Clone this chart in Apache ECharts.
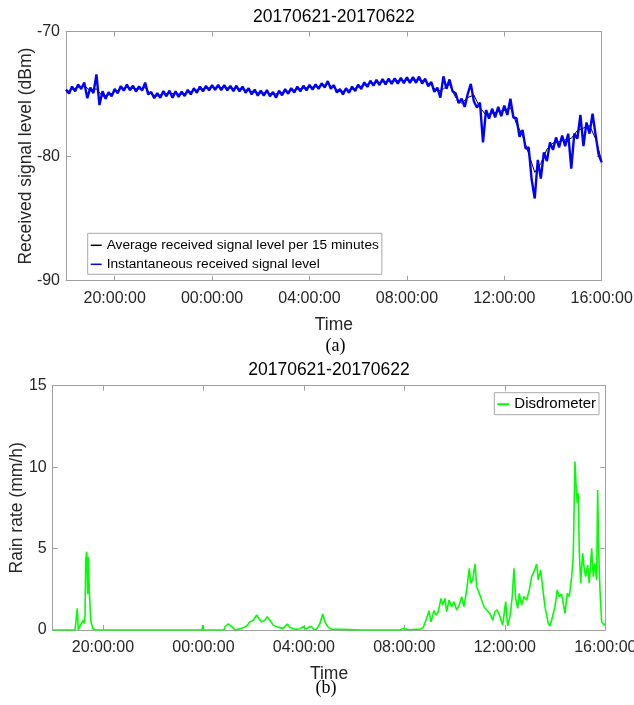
<!DOCTYPE html>
<html><head><meta charset="utf-8">
<script src="https://cdn.jsdelivr.net/npm/echarts@6/dist/echarts.min.js"></script>
<style>html,body{margin:0;padding:0;background:#fff}#c{width:634px;height:705px}</style>
</head><body><div id="c"></div>
<script>
// ---------- data ----------
const chartTitle = '20170621-20170622';
const tickHours = [2, 6, 10, 14, 18, 22];            // hours after 2017-06-21 18:00
const tickLabels = ['20:00:00', '00:00:00', '04:00:00', '08:00:00', '12:00:00', '16:00:00'];

const avgName = 'Average received signal level per 15 minutes';
const instName = 'Instantaneous received signal level';
const rainName = 'Disdrometer';

const avgStepHours = 0.25;   // 15 minutes
const avgSignal = [
  -74.86,-74.64,-74.48,-74.35,-74.75,-74.60,-75.20,-75.10,-74.85,-74.60,
  -74.48,-74.56,-74.62,-74.50,-75.05,-75.18,-75.00,-74.96,-75.00,-75.05,
  -74.90,-74.75,-74.64,-74.56,-74.50,-74.48,-74.50,-74.56,-74.56,-74.64,
  -74.75,-74.88,-74.96,-74.90,-75.05,-74.96,-74.83,-74.75,-74.64,-74.56,
  -74.48,-74.45,-74.36,-74.22,-74.50,-74.83,-74.75,-74.64,-74.48,-74.30,
  -74.16,-74.10,-74.05,-74.00,-73.97,-73.95,-73.90,-73.90,-73.88,-74.00,
  -74.30,-74.80,-74.60,-74.25,-75.30,-75.75,-75.30,-75.10,-76.10,-76.70,
  -76.55,-76.44,-76.33,-76.10,-77.40,-78.35,-79.80,-81.30,-80.60,-79.45,
  -78.95,-78.84,-78.70,-78.58,-77.95,-77.75,-77.55,-78.60,-80.40
];

const instStepHours = 0.125; // 7.5 minutes
const instSignal = [
  -74.66,-74.98,-74.42,-74.80,-74.25,-74.62,-74.10,-75.35,-74.50,-74.95,
  -73.45,-75.90,-74.80,-75.40,-74.88,-75.20,-74.62,-74.95,-74.38,-74.75,
  -74.25,-74.72,-74.35,-74.82,-74.40,-74.75,-74.10,-75.05,-74.85,-75.35,
  -74.95,-75.32,-74.78,-75.20,-74.75,-75.32,-74.80,-75.25,-74.82,-75.18,
  -74.68,-75.05,-74.55,-74.92,-74.42,-74.80,-74.36,-74.72,-74.30,-74.68,
  -74.28,-74.70,-74.30,-74.72,-74.36,-74.78,-74.35,-74.80,-74.42,-74.92,
  -74.55,-75.05,-74.66,-75.15,-74.74,-75.15,-74.70,-75.20,-74.85,-75.32,
  -74.75,-75.12,-74.62,-75.00,-74.55,-74.90,-74.42,-74.80,-74.35,-74.72,
  -74.28,-74.66,-74.25,-74.60,-74.15,-74.50,-73.98,-74.60,-74.30,-74.90,
  -74.62,-75.05,-74.55,-74.92,-74.42,-74.78,-74.26,-74.62,-74.08,-74.45,
  -73.95,-74.35,-73.88,-74.30,-73.82,-74.25,-73.78,-74.20,-73.75,-74.18,
  -73.72,-74.15,-73.68,-74.12,-73.66,-74.12,-73.62,-74.18,-73.78,-74.40,
  -74.05,-74.85,-74.50,-75.30,-73.60,-74.60,-73.85,-74.80,-74.95,-75.75,
  -75.40,-76.05,-75.00,-74.20,-75.60,-76.10,-75.70,-78.90,-76.30,-77.00,
  -76.20,-76.90,-76.05,-76.80,-75.95,-76.70,-75.40,-76.90,-76.95,-78.45,
  -77.90,-79.40,-79.30,-81.90,-83.40,-80.30,-81.80,-79.70,-80.40,-78.90,
  -79.50,-78.50,-79.30,-78.35,-79.20,-78.20,-81.00,-78.20,-78.60,-76.70,
  -79.20,-77.30,-78.20,-76.60,-78.30,-79.90,-80.50
];

const rainHours = [
  0,0.888,0.947,0.979,1.019,1.087,1.154,1.218,1.258,1.286,1.314,1.354,1.393,1.417,1.457,1.513,1.592,1.684,
  5.943,5.971,5.999,6.82,6.859,6.99,7.058,7.166,7.257,7.524,7.723,7.854,7.986,8.121,8.225,8.32,8.451,8.543,
  8.65,8.782,8.981,9.18,9.339,9.447,9.646,9.845,9.976,10.111,10.2,10.31,10.4,10.51,10.64,10.748,10.84,10.971,
  11.12,11.44,11.835,12.23,13.826,13.957,14.144,14.49,14.622,14.753,14.889,14.98,15.06,15.179,15.259,15.35,
  15.458,15.525,15.617,15.685,15.776,15.884,15.975,16.083,16.186,16.282,16.373,16.481,16.584,16.64,16.72,
  16.812,16.879,16.982,17.078,17.17,17.277,17.408,17.516,17.608,17.699,17.807,17.914,18.033,18.113,18.205,
  18.296,18.364,18.432,18.511,18.575,18.67,18.762,18.869,18.973,19.068,19.16,19.268,19.331,19.427,19.53,
  19.598,19.729,19.797,19.865,19.996,20.087,20.167,20.263,20.394,20.486,20.565,20.661,20.724,20.792,20.832,
  20.884,20.924,20.963,21.019,21.099,21.151,21.218,21.298,21.361,21.457,21.521,21.588,21.656,21.696,21.736,
  21.787,21.855,21.947,22.0
];
const rainRate = [
  0,0,0,1.33,0,0.05,0.45,0.6,0.4,0.8,4.3,4.81,2.2,4.5,2.46,0.6,0.1,0,
  0,0.3,0,0,0.2,0.37,0.4,0.16,0,0.1,0.25,0.5,0.6,0.92,0.65,0.5,0.6,0.82,
  0.6,0.3,0.16,0.1,0.37,0.16,0.04,0.08,0.2,0.05,0.18,0.2,0.03,0.05,0.4,0.98,0.5,0.16,
  0.05,0.04,0.02,0,0,0.1,0.02,0.05,0.04,0.16,0.72,1.18,0.5,1.2,0.92,1.12,
  1.94,1.53,1.94,1.12,1.84,1.43,1.74,1.23,1.53,2.05,1.43,2.46,3.79,2.87,3.07,
  4.05,2.66,2.25,1.84,1.43,1.23,1.02,0.6,1.12,1.23,0.82,0.3,1.74,0.25,0.82,
  2.05,3.79,1.94,1.33,2.25,1.53,2.05,1.84,2.46,3.28,3.58,4.05,3.07,3.69,2.3,
  1.43,0.41,0.25,0.61,1.43,2.46,2.05,2.2,1.02,2.25,2.05,3.28,4.5,10.34,9.0,
  7.78,8.4,4.9,2.87,4.71,3.89,3.28,3.99,2.87,5.02,3.28,4.1,3.07,8.6,4.9,
  2.46,0.51,0.3,0.4
];

// ---------- style ----------
const sans = '"Liberation Sans", Arial, sans-serif';
const serif = '"Liberation Serif", "Times New Roman", serif';
const axisColor = '#a0a0a0';
const textColor = '#262626';

function xAxisCfg(grid, pos, main) {
  return {
    type: 'value', gridIndex: grid, position: pos, min: 0, max: 22,
    axisLine: { show: true, onZero: false, lineStyle: { color: axisColor, width: 1 } },
    axisTick: { show: true, inside: true, length: 5, customValues: tickHours, lineStyle: { color: axisColor } },
    axisLabel: { show: main, customValues: tickHours, margin: 10,
      formatter: v => { const i = tickHours.indexOf(v); return i >= 0 ? tickLabels[i] : ''; },
      color: textColor, fontSize: 16, fontFamily: sans },
    splitLine: { show: false },
    name: main ? 'Time' : '', nameLocation: 'middle', nameGap: 35, nameMoveOverlap: false,
    nameTextStyle: { color: textColor, fontSize: 17.5, fontFamily: sans }
  };
}
function yAxisCfg(grid, pos, main, min, max, interval, name, gap) {
  return {
    type: 'value', gridIndex: grid, position: pos, min, max, interval,
    axisLine: { show: true, onZero: false, lineStyle: { color: axisColor, width: 1 } },
    axisTick: { show: true, inside: true, length: 5, lineStyle: { color: axisColor } },
    axisLabel: { show: main, margin: 6, color: textColor, fontSize: 16, fontFamily: sans },
    splitLine: { show: false },
    name: main ? name : '', nameLocation: 'middle', nameGap: gap, nameMoveOverlap: false,
    nameTextStyle: { color: textColor, fontSize: 17.5, fontFamily: sans }
  };
}

const chart = echarts.init(document.getElementById('c'), null, { renderer: 'canvas' });
chart.setOption({
  animation: false,
  backgroundColor: '#fff',
  grid: [
    { left: 66, top: 31.5, right: 32.3, bottom: 424.3, outerBoundsMode: 'none' },
    { left: 52.7, top: 385.7, right: 28.7, bottom: 75, outerBoundsMode: 'none' }
  ],
  xAxis: [
    xAxisCfg(0, 'bottom', true), xAxisCfg(0, 'top', false),
    xAxisCfg(1, 'bottom', true), xAxisCfg(1, 'top', false)
  ],
  yAxis: [
    yAxisCfg(0, 'left', true, -90, -70, 10, 'Received signal level (dBm)', 31),
    yAxisCfg(0, 'right', false, -90, -70, 10, '', 0),
    yAxisCfg(1, 'left', true, 0, 15, 5, 'Rain rate (mm/h)', 27),
    yAxisCfg(1, 'right', false, 0, 15, 5, '', 0)
  ],
  legend: [
    { data: [avgName, instName], orient: 'vertical', left: 87.7, top: 233.3,
      padding: [5, 3, 3, 3], itemGap: 5, itemWidth: 11, itemHeight: 1.5, icon: 'rect',
      backgroundColor: '#fff', borderColor: '#a8a8a8', borderWidth: 1, borderRadius: 0,
      textStyle: { color: '#000', fontSize: 13.7, fontFamily: sans, lineHeight: 14 } },
    { data: [rainName], orient: 'vertical', left: 494.3, top: 392.7,
      padding: [4, 3, 3, 3], itemWidth: 12, itemHeight: 2, icon: 'rect',
      backgroundColor: '#fff', borderColor: '#a8a8a8', borderWidth: 1, borderRadius: 0,
      textStyle: { color: '#000', fontSize: 15, fontFamily: sans, lineHeight: 15 } }
  ],
  series: [
    { name: avgName, type: 'line', xAxisIndex: 0, yAxisIndex: 0, showSymbol: false, z: 2,
      color: '#000', lineStyle: { color: '#000', width: 1 },
      data: avgSignal.map((v, k) => [k * avgStepHours, v]) },
    { name: instName, type: 'line', xAxisIndex: 0, yAxisIndex: 0, showSymbol: false, z: 3,
      color: '#0000ff', lineStyle: { color: '#0000ff', width: 2.4 },
      data: instSignal.map((v, k) => [k * instStepHours, v]) },
    { name: rainName, type: 'line', xAxisIndex: 2, yAxisIndex: 2, showSymbol: false, z: 3,
      color: '#00ff00', lineStyle: { color: '#00ff00', width: 1.6 },
      data: rainHours.map((h, i) => [h, rainRate[i]]) }
  ],
  graphic: [
    { type: 'text', x: 333.9, y: 17, style: { text: chartTitle, align: 'center', verticalAlign: 'middle', fill: '#000', font: '17.5px ' + sans } },
    { type: 'text', x: 329, y: 370, style: { text: chartTitle, align: 'center', verticalAlign: 'middle', fill: '#000', font: '17.5px ' + sans } },
    { type: 'text', x: 335.5, y: 346, style: { text: '(a)', align: 'center', verticalAlign: 'middle', fill: '#000', font: '18px ' + serif } },
    { type: 'text', x: 326, y: 688, style: { text: '(b)', align: 'center', verticalAlign: 'middle', fill: '#000', font: '18px ' + serif } }
  ]
});
</script></body></html>
